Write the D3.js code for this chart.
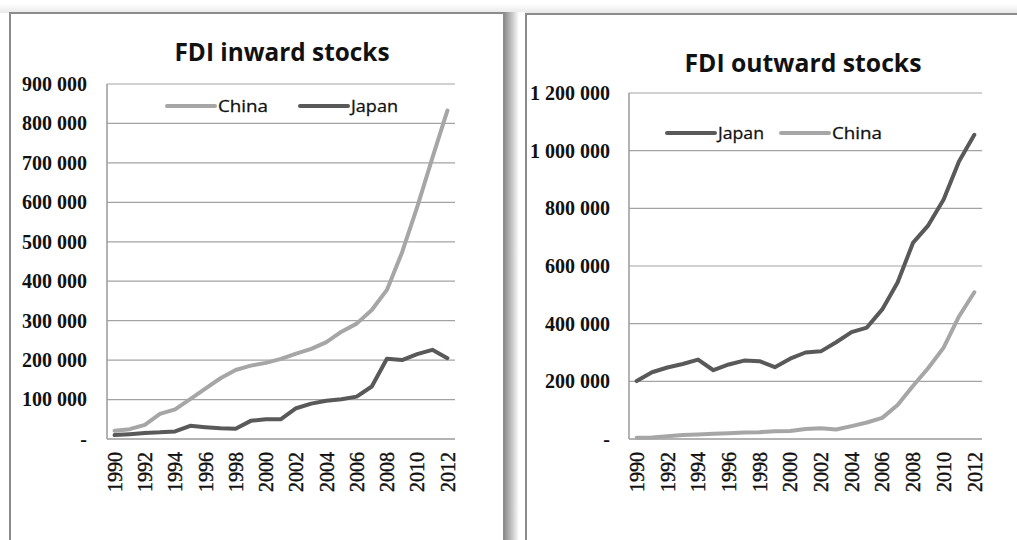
<!DOCTYPE html>
<html>
<head>
<meta charset="utf-8">
<script src="https://cdn.jsdelivr.net/npm/d3@7"></script>
<style>
  body { margin: 0; background: #fff; }
  svg { display: block; }
</style>
</head>
<body>
<svg id="chart" width="1017" height="540"></svg>
<script>
// years on the category axis
var years = [1990, 1991, 1992, 1993, 1994, 1995, 1996, 1997, 1998, 1999, 2000, 2001,
  2002, 2003, 2004, 2005, 2006, 2007, 2008, 2009, 2010, 2011, 2012];
var yearLabels = [1990, 1992, 1994, 1996, 1998, 2000, 2002, 2004, 2006, 2008, 2010, 2012];

// FDI inward stocks (millions USD)
var chinaInward = [20700, 25000, 36000, 63500, 75000, 101000, 128000, 154000, 175000, 186000,
  193000, 203000, 216500, 228500, 245500, 272000, 292500, 327000, 378000, 473000,
  588000, 712000, 833000];
var japanInward = [9850, 12300, 15500, 16900, 19200, 33500, 30000, 27000, 26000, 46000,
  50300, 50300, 78000, 89700, 97000, 101000, 107500, 133000, 203500, 200000,
  215000, 226000, 205000];

// FDI outward stocks (millions USD)
var japanOutward = [201000, 231500, 248000, 260000, 275500, 238500, 258500, 272000, 270000, 249000,
  278500, 300000, 304000, 335500, 370500, 386500, 449500, 542500, 680000, 741000,
  831000, 962500, 1055000];
var chinaOutward = [4500, 5400, 9400, 13800, 15800, 17800, 19900, 22400, 23800, 26900,
  27800, 34700, 37200, 33200, 44800, 57200, 73300, 118000, 184000, 246000,
  317000, 425000, 509000];

var inwardTicks = [0, 100000, 200000, 300000, 400000, 500000, 600000, 700000, 800000, 900000];
var outwardTicks = [0, 200000, 400000, 600000, 800000, 1000000, 1200000];

var LIGHT = "#a6a6a6", DARK = "#595959";

var locale = d3.formatLocale({ decimal: ",", thousands: " ", grouping: [3], currency: ["", ""] });
var fmt = locale.format(",");
function tickFmt(d) { return d === 0 ? "-" : fmt(d); }

var svg = d3.select("#chart");

// soft shadows and panel frames
var defs = svg.append("defs");
var sh = defs.append("linearGradient").attr("id", "shadowR").attr("x1", 0).attr("x2", 1);
sh.append("stop").attr("offset", 0).attr("stop-color", "#8a8a8a");
sh.append("stop").attr("offset", 0.35).attr("stop-color", "#b0b0b0");
sh.append("stop").attr("offset", 1).attr("stop-color", "#ffffff");
var st = defs.append("linearGradient").attr("id", "shadowT").attr("x1", 0).attr("x2", 0).attr("y1", 0).attr("y2", 1);
st.append("stop").attr("offset", 0).attr("stop-color", "#ffffff");
st.append("stop").attr("offset", 1).attr("stop-color", "#e8e8e8");

svg.append("rect").attr("x", 0).attr("y", 4).attr("width", 1017).attr("height", 9).attr("fill", "url(#shadowT)");
svg.append("rect").attr("x", 504).attr("y", 12).attr("width", 15).attr("height", 540).attr("fill", "url(#shadowR)");
svg.append("rect").attr("x", 519).attr("y", 12).attr("width", 6).attr("height", 540).attr("fill", "#fff");

svg.append("rect").attr("x", 10).attr("y", 13).attr("width", 494).attr("height", 560)
  .attr("fill", "#fff").attr("stroke", "#8c8c8c").attr("stroke-width", 2);
svg.append("rect").attr("x", 526).attr("y", 14).attr("width", 520).attr("height", 560)
  .attr("fill", "#fff").attr("stroke", "#8c8c8c").attr("stroke-width", 2);

function drawPanel(cfg) {
  var g = svg.append("g");

  var x = d3.scaleBand().domain(years).range([cfg.left, cfg.right]);
  var y = d3.scaleLinear().domain([0, cfg.max]).range([cfg.bottom, cfg.top]);

  // gridlines
  g.append("g").selectAll("line")
    .data(cfg.ticks.filter(function (d) { return d > 0; }))
    .enter().append("line")
    .attr("x1", cfg.left).attr("x2", cfg.right)
    .attr("y1", function (d) { return y(d); }).attr("y2", function (d) { return y(d); })
    .attr("stroke", "#a3a3a3").attr("stroke-width", 1.2);

  // axis lines
  g.append("line").attr("x1", cfg.left).attr("x2", cfg.left)
    .attr("y1", y(cfg.max)).attr("y2", cfg.bottom)
    .attr("stroke", "#9a9a9a").attr("stroke-width", 1.5);
  g.append("line").attr("x1", cfg.left).attr("x2", cfg.right)
    .attr("y1", cfg.bottom).attr("y2", cfg.bottom)
    .attr("stroke", "#9a9a9a").attr("stroke-width", 1.5);

  // y axis labels
  var yAxis = d3.axisLeft(y).tickValues(cfg.ticks).tickFormat(tickFmt).tickSize(0).tickPadding(cfg.labelPad);
  var ya = g.append("g").attr("transform", "translate(" + cfg.left + ",0)").call(yAxis);
  ya.select(".domain").remove();
  ya.selectAll("text")
    .style("font-family", "'Liberation Serif', 'DejaVu Serif', serif")
    .style("font-weight", "bold").style("font-size", "20px").attr("fill", "#111");

  // x axis labels
  var xAxis = d3.axisBottom(x).tickValues(yearLabels).tickSize(0);
  var xa = g.append("g").attr("transform", "translate(0," + cfg.bottom + ")").call(xAxis);
  xa.select(".domain").remove();
  xa.selectAll("text")
    .attr("transform", "rotate(-90)")
    .attr("text-anchor", "end")
    .attr("x", -13).attr("y", 0).attr("dy", "0.36em")
    .attr("stroke", "#111").attr("stroke-width", 0.4)
    .style("font-family", "'Liberation Serif', 'DejaVu Serif', serif")
    .style("font-size", "20px").attr("fill", "#111");

  // lines
  var line = d3.line()
    .x(function (d, i) { return x(years[i]) + x.bandwidth() / 2; })
    .y(function (d) { return y(d); });

  cfg.series.forEach(function (s) {
    g.append("path").datum(s.values)
      .attr("fill", "none").attr("stroke", s.color).attr("stroke-width", 4)
      .attr("stroke-linejoin", "round").attr("stroke-linecap", "round")
      .attr("d", line);
  });

  // title
  g.append("text").attr("x", cfg.titleX).attr("y", cfg.titleY)
    .attr("text-anchor", "middle")
    .attr("textLength", cfg.titleLen).attr("lengthAdjust", "spacingAndGlyphs")
    .style("font-family", "'Open Sans', 'Noto Sans', sans-serif")
    .style("font-weight", "bold").style("font-size", "25px").attr("fill", "#111")
    .text(cfg.title);

  // legend
  cfg.series.forEach(function (s, i) {
    var lg = cfg.legend[i];
    g.append("line").attr("x1", lg.x).attr("x2", lg.x + 48)
      .attr("y1", cfg.legendY).attr("y2", cfg.legendY)
      .attr("stroke", s.color).attr("stroke-width", 4).attr("stroke-linecap", "round");
    g.append("text").attr("x", lg.x + 51).attr("y", cfg.legendY + 6)
      .attr("textLength", lg.len).attr("lengthAdjust", "spacingAndGlyphs")
      .attr("stroke", "#111").attr("stroke-width", 0.3)
      .style("font-family", "'Open Sans', 'Noto Sans', sans-serif")
      .style("font-size", "17px").attr("fill", "#111")
      .text(s.name);
  });
}

drawPanel({
  left: 107, right: 455, top: 84, bottom: 439, max: 900000, ticks: inwardTicks, labelPad: 20,
  title: "FDI inward stocks", titleX: 282, titleY: 61, titleLen: 215,
  legendY: 106,
  legend: [{ x: 167, len: 50 }, { x: 300, len: 47 }],
  series: [
    { name: "China", values: chinaInward, color: LIGHT },
    { name: "Japan", values: japanInward, color: DARK }
  ]
});

drawPanel({
  left: 629, right: 982, top: 93, bottom: 439, max: 1200000, ticks: outwardTicks, labelPad: 19,
  title: "FDI outward stocks", titleX: 803, titleY: 72, titleLen: 237,
  legendY: 133,
  legend: [{ x: 667, len: 46 }, { x: 781, len: 50 }],
  series: [
    { name: "Japan", values: japanOutward, color: DARK },
    { name: "China", values: chinaOutward, color: LIGHT }
  ]
});
</script>
</body>
</html>
